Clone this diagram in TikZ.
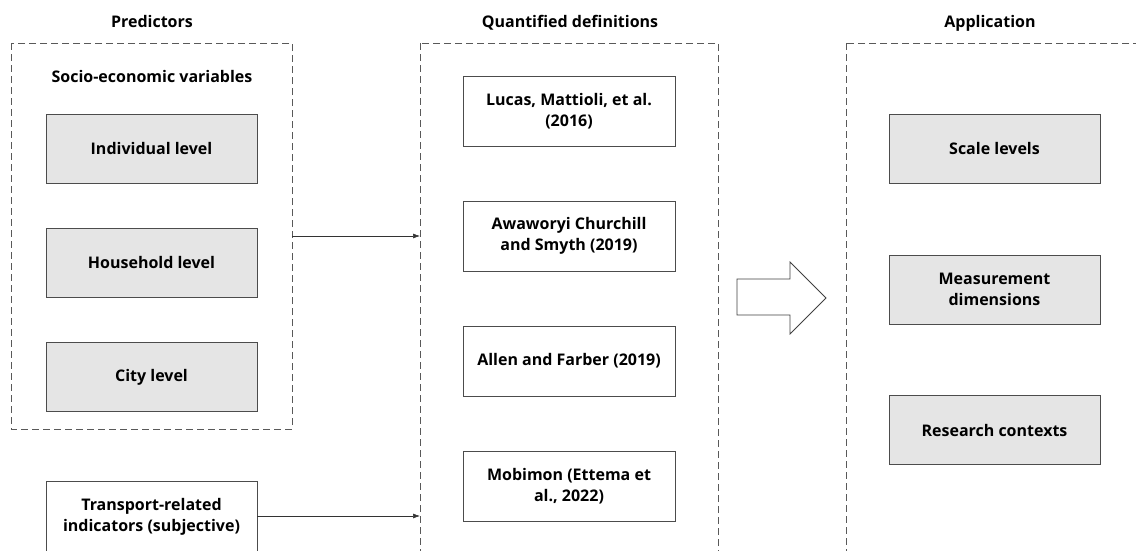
\documentclass[tikz,border=0pt]{standalone}
\usepackage{fontspec}
\setmainfont{Open Sans}
\usetikzlibrary{arrows.meta}
\begin{document}
\begin{tikzpicture}[x=1pt,y=-1pt,
  font=\bfseries\fontsize{16}{20.5}\selectfont,
  dbox/.style={draw=black!65, line width=0.9pt, dash pattern=on 7pt off 4pt},
  graybox/.style={draw=black!70, line width=0.9pt, fill=black!10, minimum width=211pt, minimum height=69pt, align=center, inner sep=2pt},
  whitebox/.style={draw=black!70, line width=0.9pt, fill=white, minimum width=212pt, minimum height=70pt, align=center, inner sep=2pt},
  conn/.style={draw=black!80, line width=0.6pt, -{Latex[length=7pt,width=5pt]}},
  head/.style={inner sep=0pt, anchor=base}]
\useasboundingbox (0,0) rectangle (1136,550);
\clip (0,0) rectangle (1136,550);
% headings
\node[head] (hp) at (152,27) {Predictors};
\node[head] (hq) at (570,27) {Quantified definitions};
\node[head] (ha) at (990,27) {Application};
% dashed containers
\draw[dbox] (11,43) rectangle (292,429);
\coordinate (leftR) at (292,236);
\draw[dbox] (420,43) rectangle (718,580);
\coordinate (midL1) at (420,236);
\coordinate (midL2) at (420,516);
\draw[dbox] (846,43) rectangle (1160,580);
% left column
\node[head] (se) at (152,82) {Socio-economic variables};
\node[graybox] (ind) at (151.5,148.5) {Individual level};
\node[graybox] (hh) at (151.5,262.5) {Household level};
\node[graybox] (city) at (151.5,377) {City level};
\node[whitebox, minimum width=211pt, minimum height=72pt] (tr) at (151.5,517) {Transport-related\\indicators (subjective)};
% middle column
\node[whitebox] (lucas) at (569,111) {Lucas, Mattioli, et al.\\(2016)};
\node[whitebox] (awa) at (569,236) {Awaworyi Churchill\\and Smyth (2019)};
\node[whitebox] (allen) at (569,361) {Allen and Farber (2019)};
\node[whitebox] (mobi) at (569,486) {Mobimon (Ettema et\\al., 2022)};
% right column
\node[graybox] (scale) at (994.5,148.5) {Scale levels};
\node[graybox] (meas) at (994.5,289.5) {Measurement\\dimensions};
\node[graybox] (res) at (994.5,430) {Research contexts};
% connectors
\draw[conn] (leftR) -- (midL1);
\draw[conn] (tr.east |- midL2) -- (midL2);
% block arrow
\draw[draw=black!75, line width=0.8pt, fill=white]
  (737,279) -- (790,279) -- (790,262) -- (826,298) -- (790,334) -- (790,315) -- (737,315) -- cycle;
\end{tikzpicture}
\end{document}
